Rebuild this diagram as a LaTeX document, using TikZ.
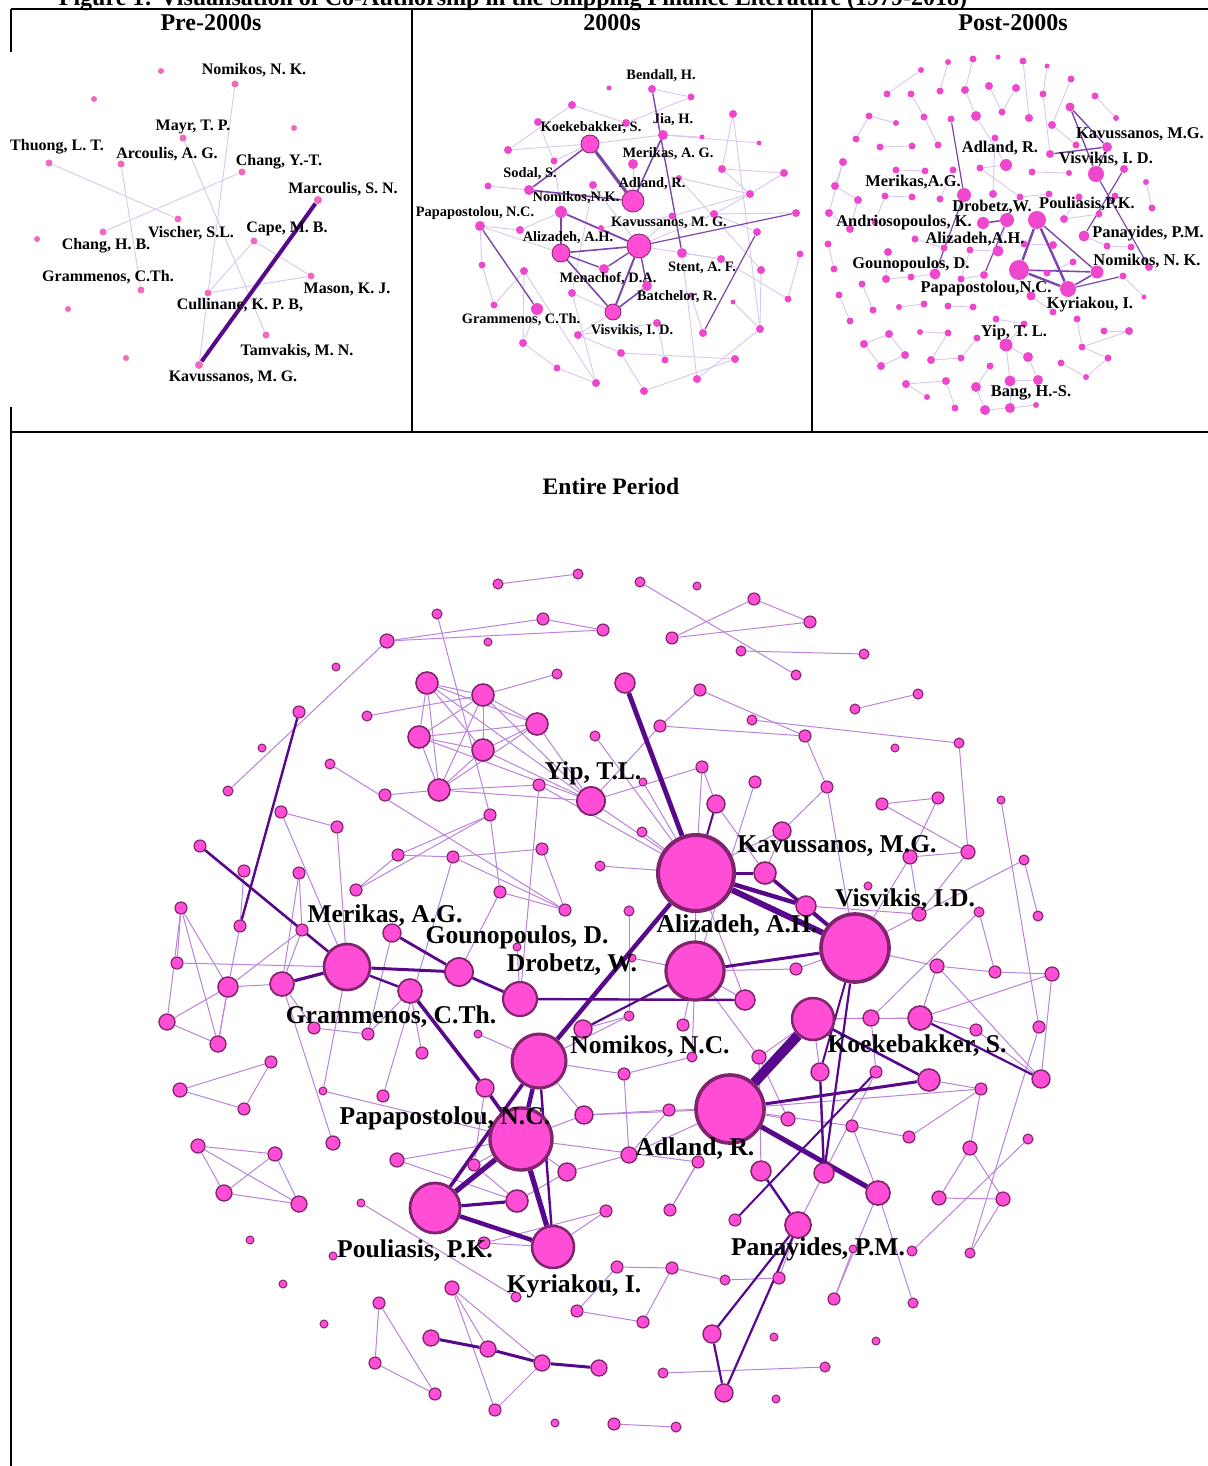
\documentclass[tikz,border=0pt]{standalone}
\usepackage{fontspec}
\setmainfont{Liberation Serif}
\definecolor{nodepink}{RGB}{255,77,214}
\definecolor{rimpurple}{RGB}{128,36,110}
\definecolor{linklilac}{RGB}{186,130,218}
\definecolor{linkplum}{RGB}{88,8,138}
\definecolor{linkmauve}{RGB}{125,70,170}
\definecolor{smallpink}{RGB}{238,70,205}
\definecolor{oldpink}{RGB}{240,105,190}
\definecolor{fadelilac}{RGB}{218,198,234}
\pgfdeclarelayer{links}
\pgfsetlayers{links,main}
\tikzset{
  au/.style={circle, inner sep=0pt, fill=nodepink, draw=rimpurple},
  speck/.style={circle, inner sep=0pt, fill=#1},
  thinlink/.style={draw=linklilac, line width=0.5pt},
  boldlink/.style={draw=linkplum, line width=#1},
  softlink/.style={draw=linkmauve, line width=#1},
  palelink/.style={draw=fadelilac, line width=0.45pt},
  lbl/.style={font=\bfseries\fontsize{#1}{#1}\selectfont, inner sep=0pt},
  rule/.style={line width=1pt, draw=black},
}
\begin{document}
\begin{tikzpicture}[x=0.5pt,y=-0.5pt]
\useasboundingbox (0,0) rectangle (1208,1466);

% Drawing the frame of the four panels
\draw[rule] (11,9) -- (1208,9);
\draw[rule] (11,9) -- (11,52);
\draw[rule] (11,407) -- (11,1466);
\draw[rule] (412,9) -- (412,432);
\draw[rule] (812,9) -- (812,432);
\draw[rule] (11,432) -- (1208,432);

% Titles
\node[lbl=12pt, anchor=base] (fig) at (513,6) {Figure 1: Visualisation of Co-Authorship in the Shipping Finance Literature (1979-2018)};
\node[lbl=12pt, anchor=base] (tpre) at (211,31) {Pre-2000s};
\node[lbl=12pt, anchor=base] (tmid) at (612,31) {2000s};
\node[lbl=12pt, anchor=base] (tpost) at (1013,31) {Post-2000s};
\node[lbl=11.8pt, anchor=base] (tall) at (611,494) {Entire Period};

% Marking authors of the pre-2000s panel
\foreach \n/\x/\y/\r in {o1/161/71/3, nkn/235/84/3.5, o3/94/99/3, may/183/138/3.5, o5/294/128/3,
  thu/49/163/3.5, arc/121/164/3.5, chy/242/172/3.5, mar/318/200/4, vis0/178/219/3.5, chh/103/232/3.5,
  o12/37/239/3, cap/254/241/3.5, mas/311/276/3.5, gra0/141/290/3.5, cul/208/293/3.5, o17/68/309/3,
  tam/266/335/3.5, o19/126/358/3, kav0/199/365/4}
  \node[speck=oldpink, minimum size=\r pt] (\n) at (\x,\y) {};

% Marking authors of the 2000s panel
\foreach \n/\x/\y/\r in {m1/609/88/2.5, bend/652/89/4, m3/691/97/3.5, m4/572/105/4, m5/538/122/4,
  m6/626/123/4, jia/663/135/5, m8/702/137/2.5, m9/759/143/2.5, m10/733/114/4, m12/508/150/4,
  m13/554/161/3.5, mer2/633/164/5, m15/722/169/4, m16/784/173/4, m17/679/178/3, m18/488/186/3.5,
  m19/593/185/4, sod/529/190/5, m21/750/194/4, nom2/561/212/6, m24/714/214/4, m25/796/213/4,
  pap2/480/226/5, m27/520/230/4, m28/601/228/3, m29/672/216/3.5, m32/757/232/4, ste/682/253/5,
  m34/721/259/4, m35/800/254/3.5, m36/482/265/3.5, m37/524/271/4, men/604/269/5, m39/761/270/4,
  bat/647/286/5, m41/572/293/4, m42/691/295/2.5, m43/733/302/2.5, m44/788/299/3.5, m45/494/305/3.5,
  gra2/537/309/6, m48/657/323/4, m49/578/335/4, m50/703/333/4, m51/760/329/4, m52/523/343/4,
  m53/621/353/4, m54/665/360/3.5, m55/735/359/4, m56/557/368/3.5, m57/697/379/4, m58/596/383/4,
  m59/644/391/4}
  \node[speck=smallpink, minimum size=\r pt] (\n) at (\x,\y) {};
\foreach \n/\x/\y/\r in {koe2/590/144/9, adl2/633/201/11, kav2/639/246/12, ali2/561/253/9, vis2/613/312/8}
  \node[au, line width=0.4pt, minimum size=\r pt] (\n) at (\x,\y) {};

% Marking authors of the post-2000s panel
\foreach \n/\x/\y/\r in {q1/921/70/3, q2/948/62/3, q3/973/59/3.5, q4/998/57/2.5, q5/1023/61/3.5,
  q6/1047/66/2.5, q7/1071/79/3.5, q8/1095/96/3.5, q9/1116/118/3, q10/887/94/3.5, q11/911/94/3.5,
  q12/940/91/3.5, q13/965/90/4, q14/989/86/4, q15/1016/88/4, q16/1043/94/3.5, q17/869/116/3.5,
  q18/896/123/3, q19/924/117/3.5, q20/951/119/3.5, q21/976/116/5, q22/1002/112/3.5, q23/1029/118/4,
  q24/1052/125/4, q25/856/139/3.5, q26/880/147/3.5, q27/912/146/3.5, q28/938/145/3.5, q29/995/138/3.5,
  q30/1050/154/4, q31/1076/145/3.5, q32/843/162/4, q33/896/170/3.5, q34/925/171/3.5, q35/953/170/3.5,
  q36/980/168/3.5, q37/1032/172/3.5, q38/1069/173/3, q39/1124/169/4, q40/1146/182/3, q41/835/186/4,
  q42/858/200/4, q43/885/196/3.5, q44/912/197/3.5, q45/940/199/3.5, q46/993/194/4, q47/1020/197/3.5,
  q48/1049/194/3.5, q49/1079/197/3.5, q50/1115/196/3.5, q51/1152/208/3.5, q52/829/213/4,
  q53/850/229/4, q54/875/222/3.5, q55/1064/219/4, q56/1099/214/3.5, q57/828/244/3.5, q58/888/252/4,
  q59/915/239/3.5, q60/944/248/3.5, q61/970/250/3.5, q62/1024/244/3.5, q63/1053/245/4,
  q64/1073/262/3.5, q65/1107/246/3.5, q66/1131/247/3.5, q67/834/269/3.5, q68/862/284/3.5,
  q69/886/279/4, q70/911/277/3.5, q71/961/279/3.5, q72/984/275/4, q73/1047/273/3.5, q74/1123/276/3.5,
  q75/1149/267/4, q76/839/295/3.5, q77/873/310/3.5, q78/899/307/3, q79/924/304/3.5, q80/948/306/3.5,
  q81/973/307/3.5, q82/996/319/3.5, q83/1031/296/4.5, q84/1053/312/3.5, q85/1077/319/3.5,
  q86/1144/297/2.5, q87/850/321/3.5, q88/889/334/4, q89/920/332/3, q90/948/333/3.5, q91/977/338/3.5,
  q92/1024/324/3.5, q93/1104/331/3.5, q94/1129/331/4, q95/864/344/4, q96/905/355/4, q97/961/358/3.5,
  q98/1028/357/5, q99/1082/347/3.5, q100/1108/358/3.5, q101/881/366/4, q102/931/360/4,
  q103/990/366/3.5, q104/1061/363/3.5, q105/906/384/4, q106/946/381/4, q107/976/387/5,
  q108/1038/380/5, q109/1086/377/3, q110/927/397/3, q111/955/408/3.5, q112/985/410/5,
  q113/1010/408/5, q114/1036/405/3}
  \node[speck=smallpink, minimum size=\r pt] (\n) at (\x,\y) {};
\foreach \n/\x/\y/\r in {p1/1070/107/4.5, kav3/1107/147/5, vis3/1096/174/8, adl3/1006/165/6,
  mer3/964/195/7, dro3/1007/220/7, pou3/1037/220/9, and3/983/223/6, ali3/998/251/5.5,
  gou3/935/274/5.5, pap3/1019/270/10, kyr3/1068/289/8, nom3/1097/272/6.5, pan3/1084/236/5.5,
  yip3/1006/345/6.5, bang3/1010/381/5.5}
  \node[speck=smallpink, minimum size=\r pt] (\n) at (\x,\y) {};

% Marking authors of the entire period
\foreach \n/\x/\y/\r [evaluate=\r as \lw using 0.3+0.045*\r] in {kav/696/873/38, vis/855/948/34,
  ali/695/971/29, adl/730/1109/34, pap/521/1139/31, nom/539/1061/27, koe/813/1019/21, mer/347/967/23,
  pou/435/1208/25, kyr/553/1247/21, dro/520/999/17, gou/459/972/14, yip/591/801/14}
  \node[au, line width=\lw pt, minimum size=\r pt] (\n) at (\x,\y) {};
\foreach \n/\x/\y/\r [evaluate=\r as \lw using 0.3+0.045*\r] in {b1/498/584/5, b2/578/574/5,
  b3/640/582/5, b4/697/586/4, b5/754/599/6, b6/810/622/6, b7/437/614/5, b8/543/619/6, b9/603/630/6,
  b10/387/641/7, b11/488/642/4, b12/672/638/6, b13/741/651/5, b14/864/654/5, b15/796/675/5,
  b16/336/667/4, b17/557/674/5, b18/427/683/11, b19/483/695/11, b20/625/683/10, b21/700/690/6,
  b22/918/694/5, b23/299/712/6, b24/367/716/5, b25/855/709/5, b26/660/726/6, b27/752/720/5,
  b28/537/724/11, b29/805/736/6, b30/959/743/5, b31/895/748/4, b32/419/737/11, b33/595/736/5,
  b34/483/750/11, b35/262/748/4, b36/330/764/5, b37/702/767/6, b38/755/782/6, b39/439/790/11,
  b40/385/795/6, b41/539/785/6, b42/228/791/5, b43/643/782/4, b44/827/787/6, b45/716/804/9,
  b46/882/804/6, b47/938/798/6, b48/1001/800/4, b49/490/815/6, b50/281/812/6, b51/337/827/6,
  b52/642/832/5, b53/782/831/9, b54/200/846/6, b55/542/849/6, b56/398/855/6, b57/453/857/6,
  b58/600/866/5, b59/910/857/7, b60/968/852/7, b61/1024/860/5, b62/244/871/6, b63/299/873/6,
  b64/356/890/6, b65/500/892/6, b66/765/873/11, b67/868/886/4, b68/181/908/6, b69/565/910/6,
  b70/629/911/5, b71/806/906/10, b72/240/926/6, b73/302/930/6, b74/392/933/9, b75/919/914/7,
  b76/979/912/5, b77/1038/916/5, b78/517/947/4, b79/177/963/6, b80/632/958/4, b81/228/987/10,
  b82/282/984/12, b83/410/991/12, b84/745/1000/10, b85/796/969/6, b86/937/966/7, b87/995/972/6,
  b88/1052/974/7, b89/167/1022/8, b90/314/1028/6, b91/368/1034/6, b92/478/1034/4, b93/583/1029/9,
  b94/629/1016/5, b95/683/1025/6, b96/871/1018/8, b97/920/1018/12, b98/976/1030/6, b99/1039/1027/6,
  b100/218/1044/8, b101/422/1053/6, b102/271/1062/6, b103/692/1057/5, b104/759/1057/7,
  b105/624/1074/6, b106/820/1072/9, b107/876/1072/6, b108/929/1080/11, b109/981/1089/6,
  b110/1041/1079/9, b111/180/1090/7, b112/323/1091/4, b113/383/1096/6, b114/485/1088/9,
  b115/244/1109/6, b116/584/1115/9, b117/669/1110/6, b118/788/1119/7, b119/852/1126/6,
  b120/909/1137/6, b121/1028/1139/5, b122/333/1143/7, b123/198/1146/7, b124/275/1154/7,
  b125/397/1160/7, b126/474/1165/6, b127/567/1172/9, b128/629/1155/8, b129/698/1162/6,
  b130/761/1171/10, b131/824/1173/10, b132/878/1193/12, b133/970/1148/7, b134/224/1193/8,
  b135/299/1204/8, b136/517/1201/11, b137/606/1211/6, b138/670/1210/6, b139/735/1220/6,
  b140/798/1225/13, b141/939/1198/7, b142/1003/1199/7, b143/361/1203/4, b144/250/1240/4,
  b145/484/1243/6, b146/333/1256/4, b147/853/1249/4, b148/912/1251/5, b149/970/1253/5,
  b150/617/1267/6, b151/672/1268/6, b152/725/1280/5, b153/779/1278/6, b154/283/1284/4,
  b155/452/1288/7, b156/516/1297/5, b157/379/1303/6, b158/577/1311/6, b159/834/1299/6,
  b160/913/1303/5, b161/324/1324/4, b162/643/1322/6, b163/712/1334/9, b164/774/1337/4,
  b165/876/1341/4, b166/431/1338/8, b167/488/1349/8, b168/542/1363/8, b169/599/1368/8,
  b170/375/1363/6, b171/663/1373/5, b172/825/1367/5, b173/724/1393/9, b174/776/1399/4,
  b175/435/1394/6, b176/495/1410/6, b177/555/1423/4, b178/614/1424/6, b179/676/1427/5}
  \node[au, line width=\lw pt, minimum size=\r pt] (\n) at (\x,\y) {};

\begin{pgfonlayer}{links}
% Drawing co-authorship links, pre-2000s
\foreach \a/\b in {nkn/cul, cul/kav0, may/tam, thu/vis0, arc/gra0, chy/chh, cap/mas, cap/cul, cul/mas}
  \draw[palelink] (\a) -- (\b);
\draw[boldlink=2pt] (mar) -- (kav0);

% Drawing co-authorship links, 2000s
\foreach \a/\b in {m12/koe2, koe2/jia, koe2/m13, m4/m6, m6/m3, m10/m51, m15/m16, m15/m21, m17/m39,
  m17/m21, m24/m32, m24/m21, m28/m29, m29/m21, m35/m44, m39/m51, m36/m45, m37/m52, m37/m58,
  m53/m55, m53/m59, m59/m55, m57/m51, m57/ste, m49/m48, m56/m52, m18/sod, pap2/m27, pap2/ali2,
  m5/m13, bend/m3, jia/m9, m19/m41, mer2/adl2, m4/m12, m27/nom2, m13/nom2, m19/kav2, m28/kav2,
  m34/m44, m34/ste, m24/m25, m41/vis2, m45/m37, m48/m54, m49/m53, kav2/m29, kav2/m24, m52/gra2,
  kav2/m34, vis2/m49, m15/m10, m8/jia, m36/pap2, m16/m21, m42/m50, m43/m51, m41/m58, m56/m58}
  \draw[palelink] (\a) -- (\b);
\foreach \a/\b/\w in {koe2/adl2/1.6, bend/ste/0.7, koe2/sod/0.8, sod/adl2/0.8, adl2/jia/0.8,
  nom2/kav2/0.9, nom2/ali2/0.7, ali2/kav2/0.8, ali2/men/0.7, ali2/vis2/0.8, kav2/vis2/1.0,
  kav2/men/0.7, kav2/bat/0.7, vis2/bat/0.8, kav2/m25/0.6, pap2/gra2/0.7, m32/m50/0.6}
  \draw[softlink=\w pt] (\a) -- (\b);

% Drawing co-authorship links, post-2000s
\foreach \a/\b in {q1/q10, q3/q13, q13/q21, q5/q23, q15/q22, q7/q24, q17/q18, q32/q41, q41/q42,
  q52/q32, q52/q53, q42/q53, q57/q67, q68/q77, q95/q88, q95/q101, q88/q96, q96/q101, q105/q106,
  q106/q111, q107/q112, q112/q113, q113/q114, q113/bang3, bang3/yip3, yip3/q98, q98/q108,
  q108/bang3, q104/q109, q99/q100, q93/q94, q94/q99, q26/q27, q33/q34, q43/q44, q59/q60, q69/q70,
  q78/q79, q80/q81, q89/q90, q91/q97, q47/q48, q55/q56, q37/q38, q29/q46, q16/q30, q64/q73,
  q65/q66, q83/q84, q19/q28, q14/q22, q36/q47, q71/q72, q25/q17, q11/q19, q2/q12, q6/q16,
  q8/q9, q31/q24, q45/q35, q54/q43, q58/q69, q61/q71, q62/q63, q82/q92, q85/q99, q74/q86,
  q87/q76, q102/q97, q103/q107, yip3/q92, q110/q105, q40/q51, q49/q55, q21/adl3, adl3/q36,
  ali3/q61, ali3/dro3, pan3/q65, gou3/q70, q90/q102, q109/q100}
  \draw[palelink] (\a) -- (\b);
\foreach \a/\b/\w in {p1/kav3/0.7, p1/vis3/0.7, kav3/vis3/0.6, kav3/q30/0.7, vis3/q75/0.6,
  q39/pan3/0.6, q20/mer3/0.6, mer3/gou3/0.6, and3/dro3/0.8, dro3/q72/0.6, pou3/pap3/1.2,
  pou3/kyr3/1.2, pap3/kyr3/1.2, pap3/nom3/0.8, kyr3/nom3/0.8, pou3/nom3/0.7, kyr3/q74/0.6}
  \draw[softlink=\w pt] (\a) -- (\b);

% Drawing co-authorship links, entire period
\foreach \a/\b in {b1/b2, b3/b15, b5/b6, b5/b12, b12/b6, b13/b14, b10/b9, b10/b8, b8/b9, b10/b42,
  b7/b49, b18/b19, b18/b32, b18/b34, b18/b39, b18/b28, b18/yip, b19/b17, b19/b32, b19/b34,
  b19/b39, b19/b28, b19/yip, b32/b34, b32/b28, b32/b39, b32/yip, b34/b28, b34/b39, b34/yip,
  b28/b39, b28/yip, b24/b19, b40/b39, b39/b41, b41/dro, b39/yip, b33/kav, yip/kav, yip/b26,
  b36/b69, b50/b51, b50/mer, b51/mer, b56/b49, b64/b49, b64/b56, b57/b55, b57/b69, b55/b69,
  b65/gou, b68/b79, b68/b89, b68/b100, b68/b81, b72/b81, b73/b82, b73/b81, b79/mer, b81/b82,
  b62/b72, b63/b82, b89/b100, b89/b81, b81/b100, b82/b90, b82/b122, mer/b112, b112/pap,
  b74/b91, b113/b57, b101/b83, b21/b26, b21/b29, b26/b29, b27/b30, b22/b25, b37/kav, b38/ali,
  b44/b53, b44/vis, b53/kav, b46/b60, b47/b59, b46/b47, b48/b99, b60/b59, b60/b75, b61/vis,
  b76/b87, b76/b96, b77/b61, b88/b110, b86/b87, b87/b88, b86/b110, b86/b97, b97/b88, b97/b98,
  b108/b109, b133/b141, b133/b142, b141/b142, b121/b148, b99/b149, b59/b75, kav/b52, kav/b58,
  kav/b43, kav/ali, kav/b84, ali/b84, ali/b85, ali/b95, ali/b103, ali/b104, koe/b97, koe/b96,
  koe/b104, koe/b106, adl/b117, adl/b128, adl/b116, adl/b118, adl/b119, adl/b109, nom/b105,
  nom/b116, nom/b92, nom/b94, pap/b126, pap/b116, pap/b125, pap/b127, pap/b129, b125/b136,
  b126/b136, b145/b137, b143/b156, b150/b158, b158/b162, b150/b151, b151/b162, b151/b152,
  b152/b153, b132/b159, b119/b120, b118/b104, b155/b167, b155/b176, b155/b168, b176/b168,
  b157/b175, b157/b170, b170/b175, b123/b124, b123/b134, b123/b135, b124/b134, b124/b135,
  b134/b135, b111/b102, b111/b115, b102/b115, b171/b172, b178/b179, b131/b107, b138/b129,
  b140/b131, b140/b153, kyr/b137, b85/vis, b86/vis, b63/b73, b90/b91, b91/b83, b56/b57,
  b65/b69, b70/b94, b80/ali, b78/dro, b100/b81, b114/b126, b127/b136, b128/b117, b129/b138,
  b130/b104, b119/b132, b120/b109, b107/b96, b96/b97, b98/b110, b71/b75, b59/vis, b53/b66,
  b45/b66, b37/b45, b29/b44, b30/b60, kav/b41, yip/b37, b49/b65, b93/b94, b105/b103, b116/b117,
  b128/b105, b145/kyr, b127/b128, b160/b132, b147/b159, b133/b109, b149/b142}
  \draw[thinlink] (\a) -- (\b);
\foreach \a/\b/\w in {koe/adl/5, kav/vis/3, kav/b71/2.2, b66/vis/1.8, kav/b66/1.5, b71/vis/1.5,
  kav/b20/2.4, kav/nom/2.2, ali/vis/1.5, dro/b84/1.2, mer/gou/1.5, mer/b82/1.6, mer/b83/1.2,
  b74/gou/1.4, gou/dro/1.4, b54/mer/1.3, b23/b72/1.2, b83/b114/1.8, b114/pap/1.8, adl/b132/2.5,
  adl/b108/1.5, koe/b108/1.3, b97/b110/1.1, nom/pap/2.2, nom/pou/1.8, nom/kyr/1.2, pap/pou/2.6,
  pap/kyr/2.6, pou/kyr/2.2, pou/b136/1.6, b166/b167/1.5, b167/b168/1.5, b168/b169/1.5,
  b140/b163/1.1, b140/b173/1.1, b163/b173/1.1, b130/b140/1.2, b139/b107/1.0, vis/b131/1.1,
  vis/b106/1.0, b106/b131/1.2, ali/b93/1.1, b45/kav/1.0}
  \draw[boldlink=\w pt] (\a) -- (\b);
\end{pgfonlayer}

% Author names, pre-2000s
\foreach \t/\x/\y in {{Nomikos, N. K.}/254/70, {Mayr, T. P.}/193/127, {Thuong, L. T.}/57/147,
  {Arcoulis, A. G.}/167/154, {Chang, Y.-T.}/279/162, {Marcoulis, S. N.}/343/189,
  {Vischer, S.L.}/191/233, {Cape, M. B.}/287/229, {Chang, H. B.}/106/246,
  {Grammenos, C.Th.}/108/277, {Mason, K. J.}/347/289, {Cullinane, K. P. B,}/240/305,
  {Tamvakis, M. N.}/297/351, {Kavussanos, M. G.}/233/377}
  \node[lbl=8pt] at (\x,\y) {\t};

% Author names, 2000s
\foreach \t/\x/\y in {{Bendall, H.}/661/76, {Koekebakker, S.}/591/128, {Jia, H.}/673/120,
  {Merikas, A. G.}/668/154, {Sodal, S.}/530/174, {Adland, R.}/652/184, {Nomikos,N.K.}/576/198,
  {Papapostolou, N.C.}/475/213, {Kavussanos, M. G.}/669/223, {Alizadeh, A.H.}/568/238,
  {Stent, A. F.}/702/268, {Menachof, D.A.}/608/279, {Batchelor, R.}/677/297,
  {Grammenos, C.Th.}/521/320, {Visvikis, I. D.}/632/331}
  \node[lbl=7.2pt] at (\x,\y) {\t};

% Author names, post-2000s
\foreach \t/\x/\y in {{Kavussanos, M.G.}/1140/134, {Adland, R.}/1000/148, {Visvikis, I. D.}/1106/159,
  {Merikas,A.G.}/913/182, {Drobetz,W.}/992/207, {Pouliasis,P.K.}/1087/204,
  {Andriosopoulos, K.}/904/223, {Alizadeh,A.H.}/975/239, {Panayides, P.M.}/1148/234,
  {Gounopoulos, D.}/911/265, {Nomikos, N. K.}/1147/261, {Papapostolou,N.C.}/986/289,
  {Kyriakou, I.}/1090/305, {Yip, T. L.}/1014/333, {Bang, H.-S.}/1031/393}
  \node[lbl=8.2pt] at (\x,\y) {\t};

% Author names, entire period
\foreach \t/\x/\y in {{Yip, T.L.}/593/773, {Kavussanos, M.G.}/837/846, {Visvikis, I.D.}/905/900,
  {Merikas, A.G.}/385/916, {Alizadeh, A.H.}/737/926, {Gounopoulos, D.}/517/937,
  {Drobetz, W.}/572/965, {Grammenos, C.Th.}/391/1017, {Nomikos, N.C.}/650/1047,
  {Koekebakker, S.}/917/1046, {Papapostolou, N.C.}/445/1118, {Adland, R.}/695/1149,
  {Panayides, P.M.}/818/1249, {Pouliasis, P.K.}/415/1251, {Kyriakou, I.}/574/1286}
  \node[lbl=12.8pt] at (\x,\y) {\t};
\end{tikzpicture}
\end{document}
